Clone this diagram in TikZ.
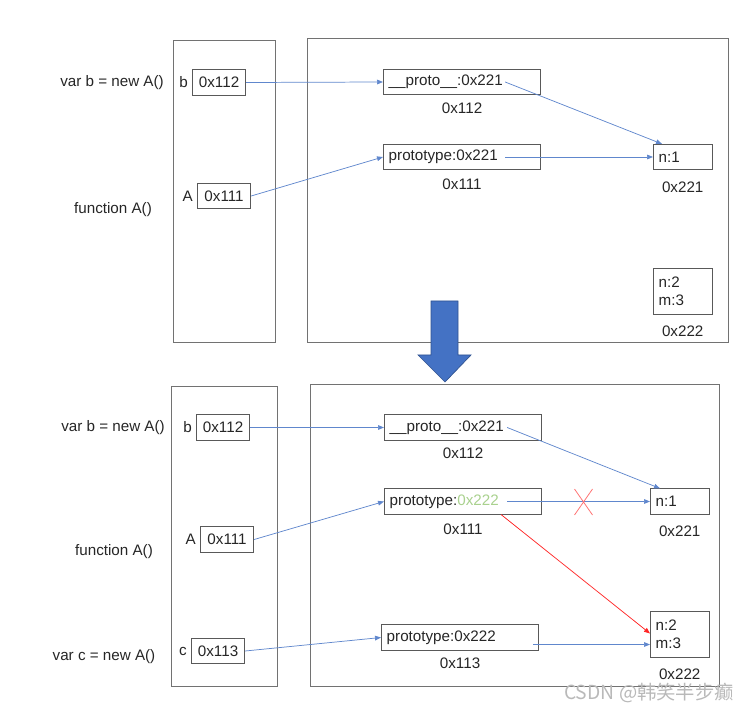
\documentclass[tikz,border=0pt]{standalone}
\usepackage{fontspec}
\setmainfont{Liberation Sans}
\newfontfamily\cjk{Noto Sans CJK SC}
\usetikzlibrary{arrows.meta, positioning, calc}

\definecolor{linkblue}{HTML}{4472C4}
\definecolor{frameline}{HTML}{595959}
\definecolor{newgreen}{HTML}{A9D18E}
\definecolor{cutred}{HTML}{FF0000}
\definecolor{arrowedge}{HTML}{2F528F}

\begin{document}
\begin{tikzpicture}[
    x=0.75pt, y=-0.75pt,
    font=\fontsize{11.4}{13.5}\selectfont, text=black!85,
    % --- styles ---
    frame/.style={draw=frameline!85, line width=0.75pt},
    addr/.style={rectangle, draw=frameline, line width=0.6pt, minimum width=40pt,
                 minimum height=19pt, inner sep=2pt},
    obj/.style={rectangle, draw=frameline, line width=0.6pt, text width=110pt,
                minimum height=19pt, inner sep=4pt, align=left},
    heap/.style={rectangle, draw=frameline, line width=0.6pt, text width=36pt,
                 minimum height=19pt, inner sep=4pt, align=left},
    tag/.style={inner sep=2pt},
    code/.style={inner sep=0pt},
    link/.style={draw=linkblue!85, line width=0.55pt, -{Triangle[length=4.5pt,width=3.5pt]}},
    redlink/.style={draw=cutred!85, line width=0.55pt, -{Triangle[length=4.5pt,width=3.5pt]}},
    cut/.style={draw=cutred!55, line width=0.6pt}
]
    \useasboundingbox (0,0) rectangle (749,712);

    % --- before: stack and heap ---
    \node[code] (varb1) at (112,83) {var b = new A()};
    \node[code] (funA1) at (113,210) {function A()};
    \draw[frame] (173,41) rectangle (275,343);
    \draw[frame] (307,39) rectangle (728,343);

    \node[addr, anchor=west] (b1) at (192,82.5) {0x112};
    \node[tag, left=1pt of b1] (b1name) {b};
    \node[addr, anchor=west] (A1) at (197,196) {0x111};
    \node[tag, left=1pt of A1] (A1name) {A};

    \node[obj, anchor=west] (proto1) at (383,82) {\_\_proto\_\_:0x221};
    \node[tag, below=3.5pt of proto1] (proto1addr) {0x112};
    \node[obj, anchor=west] (ptype1) at (383,157) {prototype:0x221};
    \node[tag, below=4.5pt of ptype1] (ptype1addr) {0x111};
    \node[heap, anchor=west] (n1) at (653,157) {n:1};
    \node[tag, below=6.5pt of n1] (n1addr) {0x221};
    \node[heap, anchor=west, minimum height=34pt] (nm1) at (653,291.5) {n:2\\m:3};
    \node[tag, below=6.5pt of nm1] (nm1addr) {0x222};

    \path[link] (b1.east) -- (proto1.west);
    \path[link] (A1.east) -- (ptype1.west);
    \path[link] ($(proto1.east)+(-36,0)$) -- ($(n1.north west)+(9,0)$);
    \path[link] ($(ptype1.east)+(-36,0)$) -- (n1.west);

    % --- big arrow ---
    \filldraw[fill=linkblue, draw=arrowedge, line width=0.5pt]
        (431,301) -- (458,301) -- (458,355) -- (471,355) -- (445,382)
        -- (418,355) -- (431,355) -- cycle;

    % --- after: stack and heap ---
    \node[code] (varb2) at (113,428) {var b = new A()};
    \node[code] (funA2) at (114,552) {function A()};
    \node[code] (varc2) at (104,657) {var c = new A()};
    \draw[frame] (171,387) rectangle (277,686);
    \draw[frame] (310,385) rectangle (719,686);

    \node[addr, anchor=west] (b2) at (196,427.5) {0x112};
    \node[tag, left=1pt of b2] (b2name) {b};
    \node[addr, anchor=west] (A2) at (200,539.5) {0x111};
    \node[tag, left=1pt of A2] (A2name) {A};
    \node[addr, anchor=west] (c2) at (191,651) {0x113};
    \node[tag, left=1pt of c2] (c2name) {c};

    \node[obj, anchor=west] (proto2) at (384,427.5) {\_\_proto\_\_:0x221};
    \node[tag, below=3.5pt of proto2] (proto2addr) {0x112};
    \node[obj, anchor=west] (ptype2) at (384,501.5) {prototype:\textcolor{newgreen}{0x222}};
    \node[tag, below=4.5pt of ptype2] (ptype2addr) {0x111};
    \node[obj, anchor=west] (ptype3) at (381,637.5) {prototype:0x222};
    \node[tag, below=3.5pt of ptype3] (ptype3addr) {0x113};
    \node[heap, anchor=west] (n2) at (650,501.5) {n:1};
    \node[tag, below=6.5pt of n2] (n2addr) {0x221};
    \node[heap, anchor=west, minimum height=34pt] (nm2) at (650,634.5) {n:2\\m:3};
    \node[tag, below=6.5pt of nm2] (nm2addr) {0x222};

    \path[link] (b2.east) -- (proto2.west);
    \path[link] (A2.east) -- (ptype2.west);
    \path[link] (c2.east) -- (ptype3.west);
    \path[link] ($(proto2.east)+(-35,0)$) -- ($(n2.north west)+(10,0)$);
    \path[link] ($(ptype2.east)+(-35,0)$) -- (n2.west);
    \path[redlink] ($(ptype2.south)+(38,0)$) -- ($(nm2.west)+(0,-1)$);
    \path[link] ($(ptype3.east)+(-6,7)$) -- ($(nm2.west)+(0,10)$);

    % cut link
    \coordinate (cross) at (583.5,502);
    \draw[cut] ($(cross)+(-9,-13)$) -- ($(cross)+(9,13)$)
               ($(cross)+(9,-13)$) -- ($(cross)+(-9,13)$);

    % watermark
    \node[text=gray!55, font=\cjk\fontsize{14.5}{16}\selectfont] (mark) at (649,693) {CSDN @韩笑半步癫};

\end{tikzpicture}
\end{document}
